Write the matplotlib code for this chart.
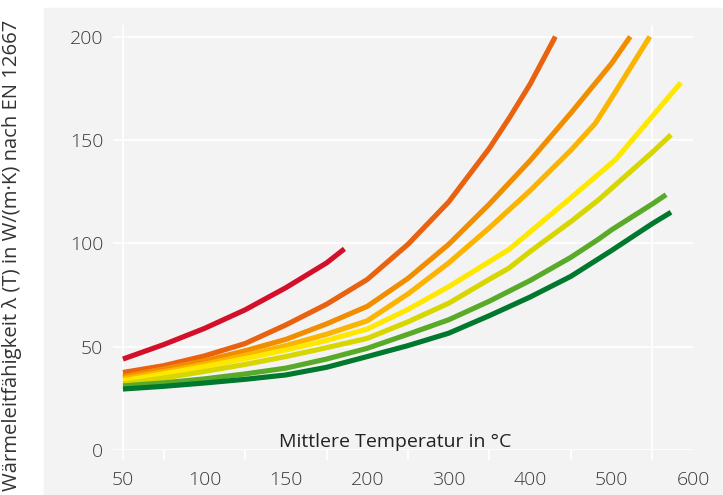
import matplotlib.pyplot as plt
import numpy as np
from matplotlib.patches import Rectangle

plt.rcParams['font.family'] = ['Open Sans', 'DejaVu Sans']

# x axis: labels equally spaced although the temperatures are not
tick_temps = [50, 100, 150, 200, 300, 400, 500, 600]
tick_labels = ['50', '100', '150', '200', '300', '400', '500', '600']

# curves (temperature in °C, lambda in W/(m·K))
red_t = [50, 75, 100, 125, 150, 175, 186]
red_v = [44, 51, 58.8, 67.8, 78.5, 90.5, 97.3]

orangered_t = [50, 75, 100, 125, 150, 175, 200, 250, 300, 350, 375, 400, 431]
orangered_v = [37.5, 40.8, 45.5, 51.5, 60.5, 70.5, 82.5, 99.5, 120, 146, 161, 177, 200]

orange_t = [50, 75, 100, 125, 150, 175, 200, 250, 300, 350, 400, 450, 500, 523]
orange_v = [35.5, 39.2, 43.2, 48, 53.5, 61, 69.5, 83, 99.5, 119, 140, 163, 187, 200]

amber_t = [50, 75, 100, 125, 150, 175, 200, 250, 300, 350, 400, 450, 480, 500, 547]
amber_v = [34.5, 37.8, 41.5, 45.8, 50.5, 56, 62.5, 75.5, 90.5, 107.5, 125.5, 145, 158, 170.3, 200]

yellow_t = [50, 75, 100, 125, 150, 175, 200, 250, 300, 374, 447, 505, 585]
yellow_v = [33.5, 36.8, 40.4, 44.2, 48.4, 53, 58.5, 68, 79, 97, 121, 140.5, 177.7]

ygreen_t = [50, 75, 100, 125, 150, 175, 200, 250, 300, 350, 374, 400, 450, 484, 500, 550, 573]
ygreen_v = [32, 34.8, 38, 41.4, 45.2, 49.5, 54, 62, 71, 82.6, 88, 96, 110.5, 121, 126.6, 144, 152.5]

green_t = [50, 75, 100, 125, 150, 175, 200, 250, 300, 350, 400, 450, 484, 500, 550, 567]
green_v = [31, 32.5, 34.4, 36.8, 39.6, 44, 49.2, 56, 63, 72, 82, 93.2, 102, 106.5, 119, 123.5]

dgreen_t = [50, 75, 100, 125, 150, 175, 200, 250, 300, 350, 400, 450, 484, 500, 550, 573]
dgreen_v = [29.5, 30.8, 32.4, 34.2, 36.3, 40, 45.2, 50.5, 56.5, 65, 74, 84, 92.5, 96.5, 109.5, 115]

colors = ['#d40f2a', '#e8620f', '#f18e00', '#fbb400', '#ffe800',
          '#d8d600', '#5aaa2a', '#00782e']
curves = [(red_t, red_v), (orangered_t, orangered_v), (orange_t, orange_v),
          (amber_t, amber_v), (yellow_t, yellow_v), (ygreen_t, ygreen_v),
          (green_t, green_v), (dgreen_t, dgreen_v)]

bg = '#f3f3f3'
fig = plt.figure(figsize=(7.23, 4.95), dpi=100)
fig.patch.set_facecolor('white')
fig.add_artist(Rectangle((44 / 723, 0), 1 - 44 / 723, 1 - 8 / 495,
                         transform=fig.transFigure, color=bg, zorder=0))

ax = fig.add_axes([113 / 723, 45 / 495, 580 / 723, 425 / 495])
ax.set_facecolor('none')

idx = np.arange(len(tick_temps))
def to_pos(t):
    return np.interp(t, tick_temps, idx)

for (t, v), c in zip(curves, colors):
    ax.plot(to_pos(t), v, color=c, lw=3.7, solid_capstyle='butt',
            solid_joinstyle='round', zorder=3)

ax.set_xlim(-0.122, 6.977)
ax.set_ylim(0, 205.6)
for s in ax.spines.values():
    s.set_visible(False)

ax.set_yticks([0, 50, 100, 150, 200])
ax.yaxis.grid(True, color='white', lw=1.3)
ax.tick_params(axis='y', length=0, pad=7, labelsize=14, labelcolor='#3a3a3a')

ax.set_xticks(idx)
ax.set_xticklabels(tick_labels)
ax.xaxis.remove_overlapping_locs = False
ax.set_xticks([0, 0.5, 1.5, 2.5, 3.5, 4.5, 5.5, 6.5], minor=True)
ax.tick_params(axis='x', which='major', length=0, pad=15, labelsize=14,
               labelcolor='#3a3a3a')
ax.tick_params(axis='x', which='minor', length=7.5, width=1.3, color='white')
for lab in ax.get_xticklabels() + ax.get_yticklabels():
    lab.set_fontweight('light')
ax.axvline(0, color='white', lw=1.3, zorder=1)
ax.axvline(6.5, color='white', lw=1.3, zorder=1)

ax.text(3.34, 4, 'Mittlere Temperatur in °C', ha='center', va='center',
        fontsize=14, color='#222222', zorder=4)
fig.text(12 / 723, 0.485, 'Wärmeleitfähigkeit λ (T) in W/(m·K) nach EN 12667',
         rotation=90, ha='center', va='center', fontsize=14.6, color='#333333')

fig.savefig('out.png', dpi=100, facecolor=fig.get_facecolor())
